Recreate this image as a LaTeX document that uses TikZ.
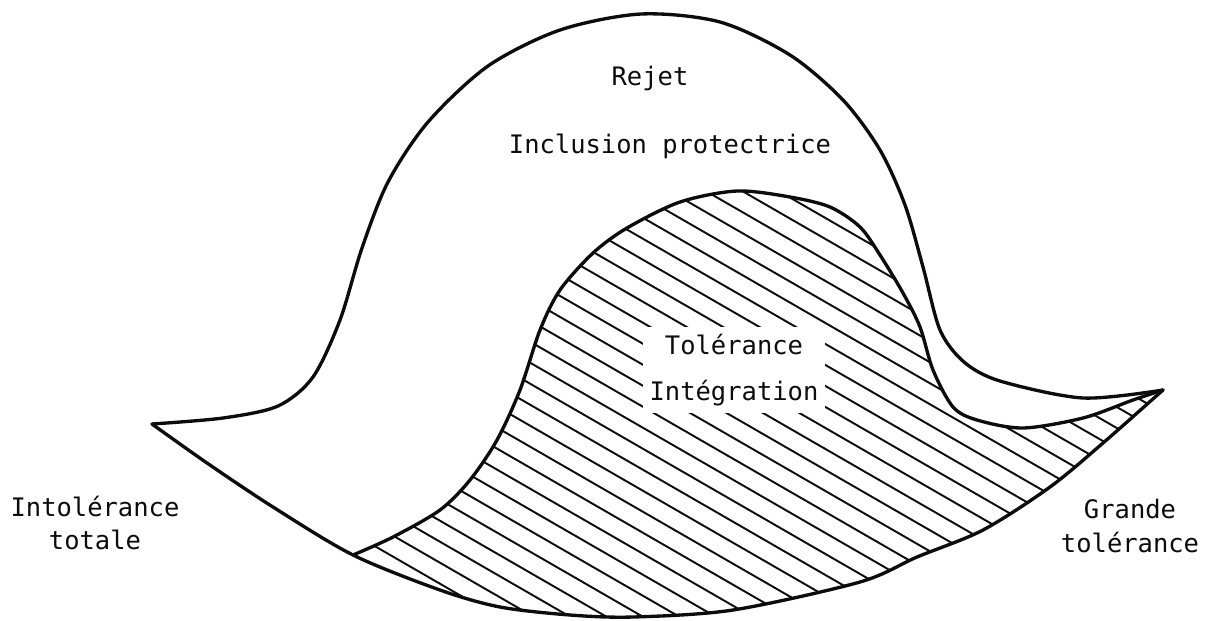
\documentclass[tikz,border=0pt]{standalone}
\usepackage{fontspec}
\usepackage{xcolor}
\usepackage{tikz}
\usetikzlibrary{calc}
\newfontfamily\typefont{DejaVu Sans Mono}
\definecolor{inkblack}{RGB}{12,12,12}
\tikzset{
  outline/.style={draw=inkblack, line width=1.9pt, line join=round, line cap=round},
  hatchline/.style={draw=inkblack, line width=1.1pt},
  lbl/.style={font={\typefont\fontsize{14.5}{19}\selectfont}, text=inkblack,
    align=center, inner sep=0pt}
}

\begin{document}
\begin{tikzpicture}[x=0.02cm, y=-0.02cm]
  \useasboundingbox (0,0) rectangle (1214,620);
  % hatched zone
  \begin{scope}
    \clip plot[smooth] coordinates {(353,555) (393,537) (440,510) (470,480) (497,440)
        (520,390) (540,330) (560,290) (593,253) (627,228) (680,202) (737,191) (790,197)
        (830,207) (860,227) (880,255) (903,293) (920,327) (933,370) (953,407) (977,420)
        (1023,428) (1083,418) (1133,400) (1163,390)}
      -- plot[smooth] coordinates {(1163,390) (1103,443) (1050,487) (983,530) (917,557)
        (860,582) (733,610) (633,617) (570,615) (500,607) (440,590) (353,555)} -- cycle;
    \foreach \c in {-300,-279,...,360}
      \draw[hatchline] (300,{\c+173}) -- (1200,{\c+692});
  \end{scope}
  \node[lbl, fill=white, inner sep=4pt] (tol) at (734,370) {Tolérance\\[7pt]Intégration};
  % outlines
  \draw[outline] plot[smooth] coordinates {(152,424) (223,418) (278,406) (313,377)
      (340,320) (362,248) (388,182) (428,122) (488,66) (560,30) (641,14) (720,22)
      (790,55) (843,100) (880,150) (905,205) (923,267) (940,330) (964,362) (1000,381)
      (1083,398) (1163,390)};
  \draw[outline] plot[smooth] coordinates {(152,424) (207,463) (273,507) (353,555)
      (440,590) (500,607) (570,615) (633,617) (733,610) (860,582) (917,557) (983,530)
      (1050,487) (1103,443) (1163,390)};
  \draw[outline] plot[smooth] coordinates {(353,555) (393,537) (440,510) (470,480)
      (497,440) (520,390) (540,330) (560,290) (593,253) (627,228) (680,202) (737,191)
      (790,197) (830,207) (860,227) (880,255) (903,293) (920,327) (933,370) (953,407)
      (977,420) (1023,428) (1083,418) (1133,400) (1163,390)};
  % labels
  \node[lbl] (rejet) at (650,78) {Rejet};
  \node[lbl] (incl) at (670,146) {Inclusion protectrice};
  \node[lbl] (intol) at (95,523) {Intolérance\\totale};
  \node[lbl] (grande) at (1130,526) {Grande\\tolérance};
\end{tikzpicture}
\end{document}
